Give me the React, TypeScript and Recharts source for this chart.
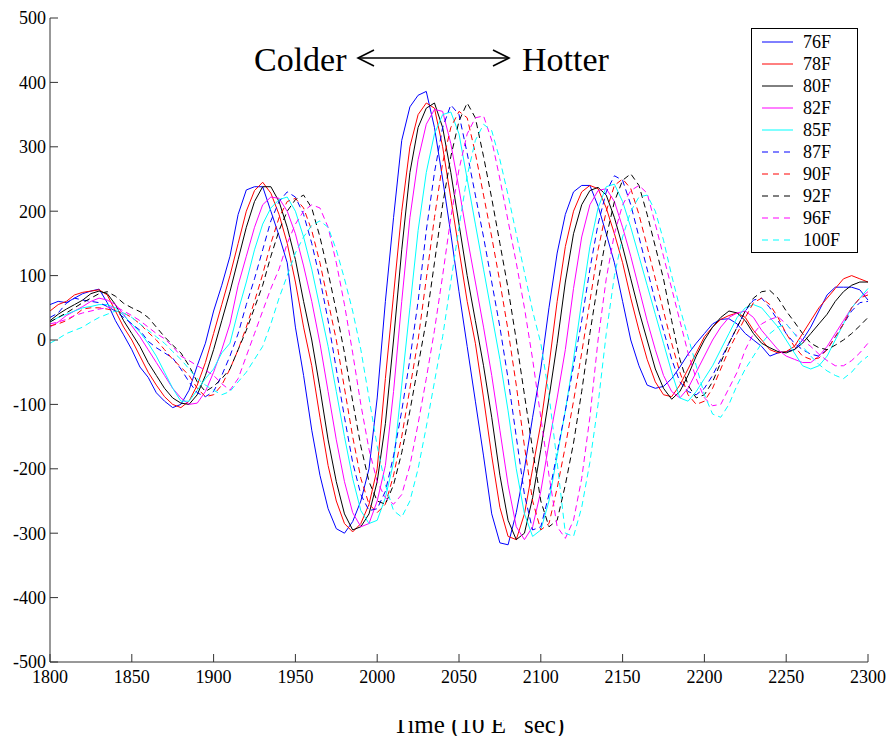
import React from 'react';
import { LineChart, Line, XAxis, YAxis } from 'recharts';

const SERIF = '"Liberation Serif", "Times New Roman", Times, serif';

const LABELS = ['76F', '78F', '80F', '82F', '85F', '87F', '90F', '92F', '96F', '100F'];
const COLORS = ['#0000ff', '#ff0000', '#000000', '#ff00ff', '#00ffff', '#0000ff', '#ff0000', '#000000', '#ff00ff', '#00ffff'];
const DASHED = [false, false, false, false, false, true, true, true, true, true];

// samples every 5 time units, 1800 .. 2300
const f76 = [55, 60, 58, 65, 72, 76, 79, 58, 30, 8, -15, -42, -58, -82, -95, -105, -100, -78, -40, -5,
  45, 85, 130, 195, 233, 238, 238, 200, 162, 120, 20, -55, -140, -210, -262, -293, -300, -282, -250, -200,
  -90, 60, 190, 310, 362, 380, 386, 330, 250, 165, 75, -10, -95, -180, -270, -315, -318, -268, -200, -120,
  -45, 50, 135, 195, 230, 240, 240, 208, 165, 120, 60, 0, -40, -70, -75, -72, -60, -42, -22, -5,
  10, 25, 32, 33, 25, 10, 0, -10, -25, -20, -18, -15, 0, 20, 45, 70, 82, 82, 82, 78, 62];
const f78 = [45, 55, 60, 70, 74, 76, 78, 70, 45, 20, 0, -25, -50, -70, -88, -100, -105, -95, -70, -35,
  10, 55, 100, 150, 200, 232, 245, 228, 195, 150, 90, 20, -40, -120, -195, -250, -285, -298, -285, -255,
  -200, -60, 70, 200, 300, 350, 368, 360, 300, 220, 140, 60, -5, -90, -180, -260, -305, -310, -270, -200,
  -130, -40, 60, 145, 200, 230, 240, 235, 205, 165, 120, 65, 15, -30, -65, -85, -88, -70, -45, -20,
  5, 20, 32, 38, 42, 35, 15, 0, -15, -20, -18, -10, 10, 30, 50, 65, 80, 95, 100, 95, 90];
const f80 = [30, 40, 48, 55, 62, 72, 76, 72, 55, 30, 10, -10, -35, -55, -75, -90, -98, -100, -85, -55,
  -15, 30, 75, 125, 175, 215, 238, 238, 215, 175, 125, 60, 0, -75, -155, -220, -270, -295, -290, -270,
  -220, -130, 0, 140, 260, 330, 360, 368, 330, 260, 180, 100, 30, -40, -120, -210, -280, -310, -300, -245,
  -170, -90, -5, 90, 165, 210, 232, 237, 225, 190, 145, 95, 45, 0, -45, -75, -92, -80, -55, -25,
  0, 20, 35, 45, 42, 30, 10, -5, -12, -18, -20, -15, -5, 10, 25, 40, 60, 75, 85, 90, 90];
const f82 = [20, 28, 38, 45, 52, 60, 65, 62, 55, 40, 22, 5, -15, -35, -55, -75, -90, -100, -98, -80,
  -50, -15, 25, 85, 130, 175, 210, 222, 220, 200, 165, 115, 60, -5, -80, -155, -220, -268, -290, -285,
  -250, -195, -80, 60, 190, 280, 335, 358, 355, 305, 235, 160, 90, 20, -55, -140, -225, -290, -310, -290,
  -235, -160, -90, -15, 80, 160, 210, 232, 235, 215, 175, 130, 80, 30, -15, -55, -80, -90, -75, -50,
  -25, 0, 20, 35, 42, 45, 35, 15, 0, -15, -25, -30, -35, -35, -25, -10, 10, 30, 50, 65, 75];
const f85 = [28, 35, 40, 45, 50, 52, 55, 55, 50, 38, 25, 12, -5, -25, -50, -75, -95, -95, -78, -60,
  -45, -20, -5, 45, 90, 140, 180, 205, 218, 222, 200, 160, 110, 50, -10, -80, -150, -215, -265, -285,
  -280, -245, -190, -70, 50, 170, 260, 320, 350, 354, 320, 250, 180, 110, 40, -30, -110, -200, -270, -305,
  -295, -250, -180, -110, -30, 60, 145, 205, 238, 242, 215, 175, 130, 85, 40, -5, -50, -90, -95, -80,
  -60, -40, -15, 10, 35, 50, 55, 50, 35, 20, 0, -20, -40, -45, -40, -25, 0, 25, 50, 65, 80];
const f87 = [35, 42, 57, 65, 62, 60, 58, 52, 45, 35, 25, 15, -2, -12, -20, -28, -45, -65, -82, -88,
  -80, -55, -25, 10, 55, 95, 140, 185, 215, 230, 222, 195, 150, 95, 30, -45, -120, -190, -240, -265,
  -262, -235, -180, -110, -30, 60, 170, 260, 330, 365, 350, 290, 225, 160, 90, 20, -60, -150, -240, -295,
  -290, -240, -175, -110, -40, 30, 110, 180, 230, 255, 248, 210, 160, 110, 60, 15, -30, -65, -80, -85,
  -75, -55, -30, -5, 20, 45, 62, 65, 50, 30, 10, -5, -15, -22, -25, -15, 5, 25, 45, 58, 60];
const f90 = [22, 25, 30, 38, 48, 50, 50, 48, 45, 42, 35, 25, 12, 0, -15, -30, -42, -55, -75, -88,
  -85, -70, -45, -15, 20, 60, 102, 150, 190, 215, 220, 205, 170, 120, 60, 0, -75, -150, -215, -255,
  -268, -255, -210, -150, -75, 0, 95, 190, 275, 330, 355, 345, 290, 225, 160, 90, 15, -70, -165, -250,
  -295, -285, -230, -165, -95, -20, 60, 140, 200, 240, 250, 235, 195, 145, 95, 45, -5, -50, -85, -100,
  -95, -75, -45, -15, 10, 35, 58, 65, 55, 35, 10, -10, -25, -30, -28, -15, 5, 25, 50, 65, 70];
const f92 = [28, 35, 42, 50, 58, 65, 72, 75, 68, 57, 50, 44, 35, 20, 5, -8, -20, -40, -65, -80,
  -72, -60, -45, -15, 15, 50, 85, 130, 170, 200, 218, 225, 205, 160, 105, 45, -20, -95, -165, -220,
  -250, -255, -225, -175, -110, -40, 30, 120, 210, 285, 340, 368, 345, 285, 220, 150, 80, 0, -85, -170,
  -250, -290, -280, -225, -160, -80, 10, 90, 160, 215, 248, 258, 240, 195, 145, 95, 30, -30, -70, -90,
  -85, -65, -35, -5, 20, 45, 65, 75, 77, 65, 45, 28, 10, -5, -12, -15, -8, 0, 10, 22, 35];
const f96 = [25, 28, 32, 38, 42, 45, 48, 50, 52, 45, 38, 30, 20, 10, 2, -10, -25, -32, -40, -47,
  -55, -68, -78, -60, -25, 10, 45, 80, 110, 150, 180, 200, 210, 205, 175, 120, 55, -20, -100, -170,
  -220, -245, -255, -240, -195, -130, -60, 15, 100, 190, 265, 320, 345, 348, 310, 250, 185, 120, 50, -30,
  -120, -210, -290, -308, -280, -215, -120, 0, 95, 165, 210, 232, 240, 228, 180, 130, 80, 30, -20, -60,
  -90, -102, -100, -75, -50, -15, 10, 25, 32, 36, 25, 10, 0, -10, -22, -32, -40, -40, -32, -20, -5];
const f100 = [-5, 2, 10, 15, 20, 28, 35, 40, 45, 42, 35, 25, 15, 5, -5, -18, -30, -45, -60, -70,
  -78, -85, -80, -65, -50, -30, -10, 25, 65, 100, 135, 160, 178, 185, 175, 140, 95, 45, -15, -90,
  -165, -225, -265, -275, -250, -200, -135, -65, 5, 90, 175, 255, 310, 335, 325, 280, 225, 165, 105, 45,
  -5, -85, -190, -300, -305, -260, -190, -100, 10, 100, 160, 200, 222, 225, 200, 155, 100, 50, 5, -40,
  -85, -115, -120, -100, -70, -45, -25, -5, 10, 20, 25, 10, -10, -25, -38, -48, -55, -60, -50, -35, -25];

const SERIES = [f76, f78, f80, f82, f85, f87, f90, f92, f96, f100];
const TIME = f76.map((_, i) => 1800 + i * 5);

const X_TICKS = [1800, 1850, 1900, 1950, 2000, 2050, 2100, 2150, 2200, 2250, 2300];
const Y_TICKS = [-500, -400, -300, -200, -100, 0, 100, 200, 300, 400, 500];

const data = TIME.map((t, i) => {
  const row: Record<string, number> = { t };
  SERIES.forEach((s, k) => {
    row[LABELS[k]] = s[i];
  });
  return row;
});

const AXIS = '#333';

function XTick({ x, y, payload }: any) {
  return (
    <g>
      <line x1={x} y1={y} x2={x} y2={y - 8} stroke={AXIS} />
      <text x={x} y={y + 21} textAnchor="middle" fontFamily={SERIF} fontSize={18} fill="#000">
        {payload.value}
      </text>
    </g>
  );
}

function YTick({ x, y, payload }: any) {
  return (
    <g>
      <line x1={x} y1={y} x2={x + 8} y2={y} stroke={AXIS} />
      <text x={x - 4} y={y} dy="0.35em" textAnchor="end" fontFamily={SERIF} fontSize={18} fill="#000">
        {payload.value}
      </text>
    </g>
  );
}

function Overlay() {
  return (
    <svg width={886} height={736} style={{ position: 'absolute', left: 0, top: 0, pointerEvents: 'none' }}>
      {/* legend */}
      <rect x={751.5} y={28.5} width={106} height={224} fill="#fff" stroke="#000" />
      {LABELS.map((name, i) => {
        const cy = 42 + i * 22;
        return (
          <g key={name}>
            <line x1={762} y1={cy} x2={793} y2={cy} stroke={COLORS[i]} strokeDasharray={DASHED[i] ? '6 5' : undefined} />
            <text x={803} y={cy + 6} fontFamily={SERIF} fontSize={18} fill="#000">{name}</text>
          </g>
        );
      })}

      {/* Colder <-> Hotter */}
      <text x={254} y={71} fontFamily={SERIF} fontSize={34} fill="#000">Colder</text>
      <text x={522} y={71} fontFamily={SERIF} fontSize={34} fill="#000">Hotter</text>
      <g stroke="#000" strokeWidth={1.6} fill="none">
        <line x1={358} y1={58} x2={509} y2={58} />
        <polyline points="374,50 358,58 374,66" />
        <polyline points="493,50 509,58 493,66" />
      </g>

      {/* x label, its top is hidden in the original */}
      <text x={393} y={733} fontFamily={SERIF} fontSize={25} fill="#000">
        Time (10 E<tspan dx={18}>sec)</tspan>
      </text>
      <rect x={380} y={690} width={220} height={30} fill="#fff" />
    </svg>
  );
}

export default function App() {
  return (
    <div style={{ position: 'absolute', left: 0, top: 0, width: 886, height: 736, background: '#fff' }}>
      <LineChart width={886} height={736} data={data} margin={{ top: 18, right: 18, bottom: 44, left: 0 }}>
        <XAxis
          dataKey="t"
          type="number"
          domain={[1800, 2300]}
          ticks={X_TICKS}
          interval={0}
          height={30}
          tickSize={0}
          tickMargin={0}
          tickLine={false}
          axisLine={{ stroke: AXIS }}
          tick={<XTick />}
        />
        <YAxis
          type="number"
          domain={[-500, 500]}
          ticks={Y_TICKS}
          interval={0}
          width={50}
          tickSize={0}
          tickMargin={0}
          tickLine={false}
          axisLine={{ stroke: AXIS }}
          tick={<YTick />}
        />
        {LABELS.map((name, i) => (
          <Line
            key={name}
            type="linear"
            dataKey={name}
            stroke={COLORS[i]}
            strokeWidth={1}
            strokeDasharray={DASHED[i] ? '6 4' : undefined}
            dot={false}
            activeDot={false}
            isAnimationActive={false}
          />
        ))}
      </LineChart>
      <Overlay />
    </div>
  );
}
